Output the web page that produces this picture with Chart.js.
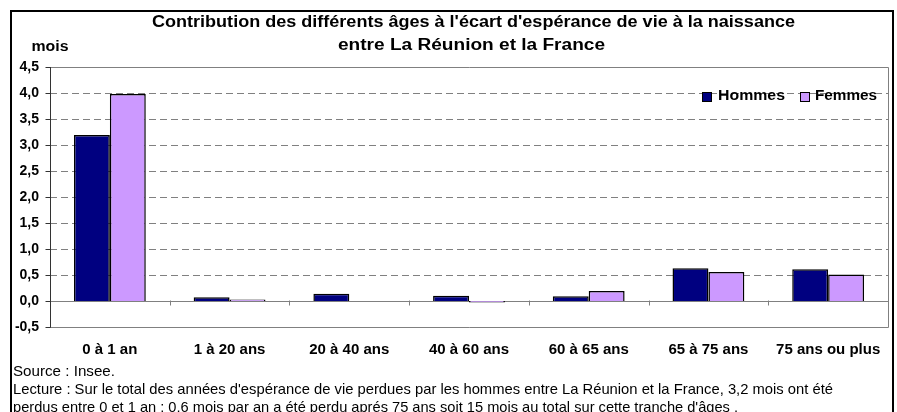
<!DOCTYPE html>
<html>
<head>
<meta charset="utf-8">
<script src="https://cdn.jsdelivr.net/npm/chart.js@4/dist/chart.umd.min.js"></script>
<style>
  html, body { margin: 0; padding: 0; background: #fff; }
  #wrap { width: 897px; height: 412px; position: relative; }
</style>
</head>
<body>
<div id="wrap"><canvas id="c"></canvas></div>
<script>
// ---- data (in months) ----
const categories = ['0 à 1 an', '1 à 20 ans', '20 à 40 ans', '40 à 60 ans', '60 à 65 ans', '65 à 75 ans', '75 ans ou plus'];
const hommes = [3.19, 0.07, 0.14, 0.10, 0.09, 0.63, 0.61];
const femmes = [3.98, 0.03, 0.0, -0.03, 0.19, 0.56, 0.51];
const yMin = -0.5, yMax = 4.5, yStep = 0.5;

const titleLines = [
  "Contribution des différents âges à l'écart d'espérance de vie à la naissance",
  'entre La Réunion et la France',
];
const yUnit = 'mois';
const footLines = [
  'Source : Insee.',
  "Lecture : Sur le total des années d'espérance de vie perdues par les hommes entre La Réunion et la France, 3,2 mois ont été",
  "perdus entre 0 et 1 an : 0,6 mois par an a été perdu aprés 75 ans soit 15 mois au total sur cette tranche d'âges .",
];

const C = { navy: '#000080', lilac: '#CC99FF', grid: '#808080', ink: '#000000' };
const FONT = "'Liberation Sans', Arial, sans-serif";

// text helper: optional target width -> horizontal stretch (the original is a stretched export)
function txt(ctx, s, x, y, font, align, w) {
  ctx.save();
  ctx.font = font; ctx.fillStyle = C.ink; ctx.textBaseline = 'middle';
  const m = ctx.measureText(s).width;
  const sx = w ? w / m : 1;
  let x0 = x;
  if (align === 'center') x0 = x - (m * sx) / 2;
  else if (align === 'right') x0 = x - m * sx;
  ctx.translate(x0, y); ctx.scale(sx, 1);
  ctx.textAlign = 'left';
  ctx.fillText(s, 0, 0);
  ctx.restore();
}

const excelFrame = {
  id: 'excelFrame',
  beforeDraw(chart) {
    const { ctx, width, height } = chart;
    ctx.save();
    ctx.fillStyle = '#fff'; ctx.fillRect(0, 0, width, height);
    ctx.strokeStyle = '#000'; ctx.lineWidth = 2;
    ctx.strokeRect(11, 11, 882, height + 20);
    ctx.restore();
  },
  beforeDatasetsDraw(chart) {
    const { ctx, chartArea: a, scales } = chart;
    const y = scales.y;
    ctx.save();
    ctx.lineWidth = 1;
    // dashed gridlines
    ctx.strokeStyle = C.grid; ctx.setLineDash([7, 4]);
    y.ticks.forEach(t => {
      if (t.value === 0 || t.value === yMin || t.value === yMax) return;
      const yp = Math.round(y.getPixelForValue(t.value)) + 0.5;
      ctx.beginPath(); ctx.moveTo(a.left, yp); ctx.lineTo(a.right, yp); ctx.stroke();
    });
    ctx.setLineDash([]);
    // plot frame (top / right / bottom)
    const top = Math.round(a.top) + 0.5, bot = Math.round(a.bottom) + 0.5, right = Math.round(a.right) + 0.5;
    ctx.beginPath();
    ctx.moveTo(a.left, top); ctx.lineTo(right, top); ctx.lineTo(right, bot); ctx.lineTo(a.left, bot);
    ctx.stroke();
    // zero line with category ticks
    const y0 = Math.round(y.getPixelForValue(0)) + 0.5;
    ctx.beginPath(); ctx.moveTo(a.left, y0); ctx.lineTo(a.right, y0); ctx.stroke();
    const n = categories.length;
    for (let i = 1; i <= n; i++) {
      const xp = Math.round(a.left + (a.right - a.left) * i / n) + 0.5;
      ctx.beginPath(); ctx.moveTo(xp, y0 - 1); ctx.lineTo(xp, y0 + 4); ctx.stroke();
    }
    // y axis + outward ticks
    ctx.strokeStyle = '#333';
    const xl = Math.round(a.left) + 0.5;
    ctx.beginPath(); ctx.moveTo(xl, a.top); ctx.lineTo(xl, a.bottom + 0.5); ctx.stroke();
    y.ticks.forEach(t => {
      const yp = Math.round(y.getPixelForValue(t.value)) + 0.5;
      ctx.beginPath(); ctx.moveTo(xl - 5, yp); ctx.lineTo(xl, yp); ctx.stroke();
    });
    ctx.restore();
  },
  afterDraw(chart) {
    const { ctx } = chart;
    // titles
    txt(ctx, titleLines[0], 473.5, 23, `bold 16px ${FONT}`, 'center', 643);
    txt(ctx, titleLines[1], 471.5, 46, `bold 16px ${FONT}`, 'center', 267);
    txt(ctx, yUnit, 31.5, 47, `bold 14px ${FONT}`, 'left', 37);
    // legend
    const ds = chart.data.datasets;
    const leg = [{ x: 702, tx: 718, w: 67 }, { x: 800, tx: 815, w: 62 }];
    leg.forEach((l, i) => {
      ctx.save();
      ctx.fillStyle = ds[i].backgroundColor; ctx.strokeStyle = '#000'; ctx.lineWidth = 1;
      ctx.fillRect(l.x + 0.5, 92.5, 9, 9); ctx.strokeRect(l.x + 0.5, 92.5, 9, 9);
      ctx.restore();
      txt(ctx, ds[i].label, l.tx, 96, `bold 14px ${FONT}`, 'left', l.w);
    });
    // footnotes
    txt(ctx, footLines[0], 13, 372, `15px ${FONT}`, 'left', 102);
    txt(ctx, footLines[1], 13, 390, `15px ${FONT}`, 'left', 820);
    txt(ctx, footLines[2], 13, 408, `15px ${FONT}`, 'left', 725);
  },
};

new Chart(document.getElementById('c'), {
  type: 'bar',
  data: {
    labels: categories,
    datasets: [
      { label: 'Hommes', data: hommes, backgroundColor: C.navy, borderColor: '#000', borderWidth: 1.5,
        categoryPercentage: 0.6, barPercentage: 1.0 },
      { label: 'Femmes', data: femmes, backgroundColor: C.lilac, borderColor: '#000', borderWidth: 1.5,
        categoryPercentage: 0.6, barPercentage: 1.0 },
    ],
  },
  options: {
    responsive: true, maintainAspectRatio: false, animation: false,
    layout: { padding: { left: 10, right: 9, top: 67, bottom: 45 } },
    scales: {
      x: {
        grid: { display: false, drawTicks: false }, border: { display: false },
        ticks: { color: C.ink, font: { family: FONT, size: 15, weight: 'bold' }, padding: 14, maxRotation: 0 },
        afterFit: s => { s.height = 40; },
      },
      y: {
        min: yMin, max: yMax,
        grid: { display: false, drawTicks: false }, border: { display: false },
        ticks: { stepSize: yStep, color: C.ink, padding: 11,
          font: { family: FONT, size: 14, weight: 'bold' },
          callback: v => v.toFixed(1).replace('.', ',') },
        afterFit: s => { s.width = 40; },
      },
    },
    plugins: { legend: { display: false }, tooltip: { enabled: false }, title: { display: false } },
  },
  plugins: [excelFrame],
});
</script>
</body>
</html>
